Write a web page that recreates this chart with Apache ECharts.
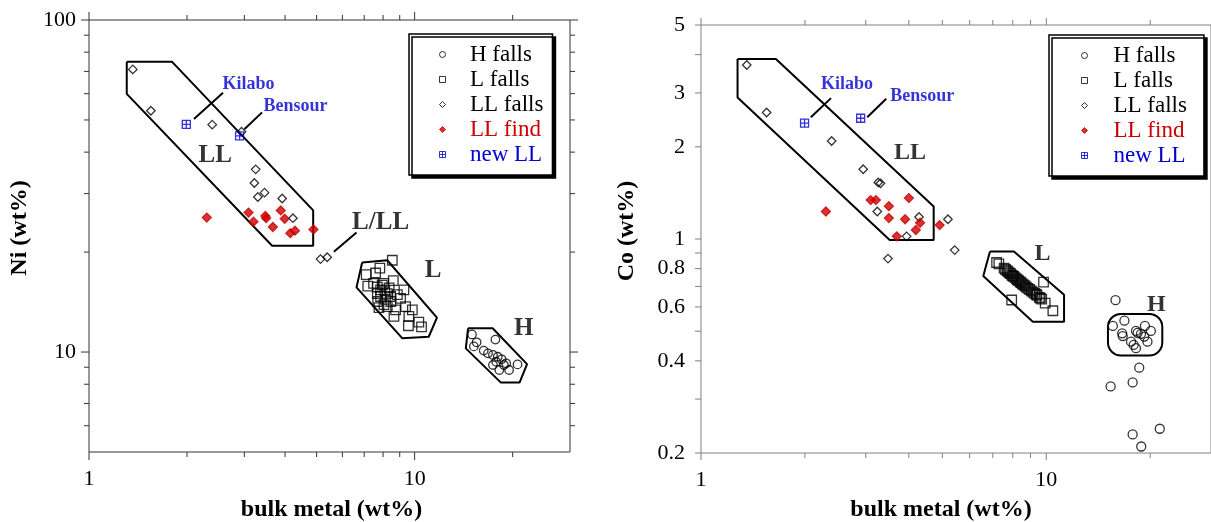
<!DOCTYPE html>
<html><head><meta charset="utf-8">
<script src="https://cdn.jsdelivr.net/npm/echarts@6/dist/echarts.min.js"></script>
<style>html,body{margin:0;padding:0;background:#fff;}#c{width:1211px;height:522px;}</style>
</head><body><div id="c"></div>
<script>
// ---------- axis ranges & ticks ----------
const niXRange = [1, 30];
const niYRange = [5, 100];
const coXRange = [1, 30];
const coYRange = [0.2, 5];
const niXMajor = [1, 10];
const niXMinor = [2, 3, 4, 5, 6, 7, 8, 9, 20];
const niXLabels = [1, 10];
const niYMajor = [10, 100];
const niYMinor = [6, 7, 8, 9, 20, 30, 40, 50, 60, 70, 80, 90];
const niYLabels = [10, 100];
const coXMajor = [1, 10];
const coXMinor = [2, 3, 4, 5, 6, 7, 8, 9, 20];
const coXLabels = [1, 10];
const coYMajor = [0.2, 0.3, 0.4, 0.5, 0.6, 0.7, 0.8, 0.9, 1, 2, 3, 4, 5];
const coYMinor = [];
const coYLabels = [0.2, 0.4, 0.6, 0.8, 1, 2, 3, 5];

// ---------- Ni panel data [bulk metal, Ni] ----------
const niHFalls = [[15.0,11.3],[15.5,10.7],[15.2,10.4],[17.7,10.9],[16.3,10.1],[16.8,9.91],[17.4,9.80],[18.0,9.68],[18.5,9.51],[19.1,9.25],[17.4,9.14],[18.2,8.83],[19.5,8.83],[20.7,9.18],[17.8,9.35],[18.8,9.14]];
const niLFalls = [[8.54,18.9],[7.10,17.1],[7.82,17.9],[7.59,17.3],[7.18,15.8],[7.68,15.7],[7.86,15.4],[8.60,16.4],[9.27,15.4],[8.85,14.9],[8.44,14.7],[7.86,14.7],[7.77,13.6],[8.24,13.7],[8.74,13.4],[8.64,12.8],[9.38,13.7],[9.84,13.4],[9.60,12.8],[10.3,12.3],[9.57,12.0],[10.5,11.9],[8.04,16.1],[8.24,15.0],[7.68,15.0],[7.48,16.1],[8.14,14.4],[7.95,15.9],[8.35,15.6],[8.10,15.3],[7.70,14.2],[8.45,14.2],[9.05,14.5],[8.05,13.9]];
const niLLFalls = [[1.363,71.0],[1.549,53.3],[2.39,48.4],[2.94,46.1],[3.25,35.5],[3.22,32.3],[3.46,30.2],[3.30,29.3],[3.92,29.0],[4.23,25.3],[5.14,19.05],[5.39,19.3]];
const niLLFind = [[2.30,25.4],[3.09,26.3],[3.20,24.7],[3.48,25.7],[3.50,25.3],[3.88,26.7],[3.99,25.2],[3.67,23.8],[4.15,22.8],[4.29,23.2],[4.89,23.4]];
const niNewLL = [[1.99,48.5],[2.90,44.8]];
const niLLField = [[1.306,74.9],[1.797,74.9],[4.88,26.7],[4.88,20.9],[3.65,20.9],[1.306,59.9],[1.306,74.9]];
const niLField = [[6.90,18.6],[8.24,18.9],[11.71,12.69],[11.05,11.12],[9.17,11.0],[6.63,15.66],[6.90,18.6]];
const niHField = [[14.59,11.79],[17.36,11.79],[22.14,9.2],[21.0,8.09],[18.41,8.09],[14.36,10.26],[14.59,11.79]];
const niKilaboLine = [[2.10,50.3],[2.58,60.4]];
const niBensourLine = [[3.0,46.9],[3.40,52.7]];
const niLLLLine = [[5.65,20.05],[6.63,22.9]];
const niGroupLabels = [{name:'LL',value:[2.44,39.2]},{name:'L',value:[11.39,17.6]},{name:'H',value:[21.64,11.73]},{name:'L/LL',value:[7.86,24.5]}];
const niNameLabels = [{name:'Kilabo',value:[2.56,64.2]},{name:'Bensour',value:[3.42,55.1]}];

// ---------- Co panel data [bulk metal, Co] ----------
const coHFalls = [[15.87,0.631],[16.84,0.541],[15.59,0.520],[16.59,0.492],[16.65,0.482],[18.19,0.501],[18.39,0.494],[18.81,0.490],[19.22,0.480],[19.64,0.462],[19.31,0.520],[20.09,0.501],[17.60,0.462],[17.91,0.451],[18.19,0.440],[18.59,0.380],[17.79,0.340],[15.36,0.330],[17.79,0.230],[21.32,0.240],[18.84,0.210]];
const coLFalls = [[7.18,0.838],[7.29,0.829],[7.94,0.632],[9.82,0.723],[10.45,0.583],[9.93,0.617],[9.61,0.641],[7.55,0.803],[7.62,0.795],[7.70,0.788],[7.75,0.783],[7.82,0.775],[7.88,0.771],[7.95,0.762],[8.00,0.758],[8.05,0.755],[8.12,0.748],[8.20,0.741],[8.25,0.735],[8.32,0.731],[8.40,0.724],[8.45,0.720],[8.52,0.714],[8.60,0.708],[8.68,0.703],[8.75,0.696],[8.85,0.690],[8.95,0.684],[9.05,0.677],[9.15,0.671],[9.25,0.664],[9.40,0.655],[9.55,0.645],[9.70,0.636],[9.35,0.660]];
const coLLFalls = [[1.357,3.70],[1.549,2.59],[2.39,2.09],[2.95,1.69],[3.26,1.53],[3.31,1.52],[3.24,1.23],[4.28,1.18],[5.19,1.16],[3.94,1.02],[5.43,0.92],[3.48,0.863]];
const coLLFind = [[2.30,1.23],[3.10,1.34],[3.21,1.34],[3.50,1.28],[4.00,1.36],[3.50,1.17],[3.90,1.16],[4.31,1.13],[4.19,1.07],[3.69,1.02],[4.91,1.11]];
const coNewLL = [[1.995,2.39],[2.90,2.48]];
const coLLField = [[1.276,3.87],[1.648,3.87],[4.72,1.276],[4.72,0.993],[3.52,0.993],[1.276,2.90],[1.276,3.87]];
const coLField = [[6.87,0.910],[8.06,0.910],[11.26,0.657],[11.26,0.537],[9.14,0.537],[6.57,0.757],[6.87,0.910]];
const coHBox = [[15.09,0.569,21.68,0.416]];
const coKilaboLine = [[2.08,2.50],[2.38,2.885]];
const coBensourLine = [[3.03,2.50],[3.44,2.87]];
const coGroupLabels = [{name:'LL',value:[4.03,1.91]},{name:'L',value:[9.76,0.892]},{name:'H',value:[20.84,0.609]}];
const coNameLabels = [{name:'Kilabo',value:[2.22,3.21]},{name:'Bensour',value:[3.52,2.92]}];

const legendNames = ['H falls', 'L falls', 'LL falls', 'LL find', 'new LL'];

// ---------- styles ----------
const FONT = "'Liberation Serif','Times New Roman','DejaVu Serif',serif";
const RED = '#cc0000';
const BLUE = '#0000d0';
const SYM = {
  circle: 'path://M10,5A5,5 0 1,1 0,5A5,5 0 1,1 10,5Z',
  square: 'path://M0,0L10,0L10,10L0,10Z',
  diamond: 'path://M5,0L10,5L5,10L0,5Z',
  xsquare: 'path://M0,0L10,0L10,10L0,10Z M5,0L5,10 M0,5L10,5'
};

function scat(name, data, idx, sym, size, fill, stroke) {
  return {
    type: 'scatter', name: name, data: data, xAxisIndex: idx, yAxisIndex: idx,
    symbol: SYM[sym], symbolSize: size, symbolKeepAspect: true,
    itemStyle: { color: fill, borderColor: stroke, borderWidth: 1.3 },
    emphasis: { disabled: true }, z: 5, animation: false
  };
}
function poly(data, idx, w) {
  return {
    type: 'line', data: data, xAxisIndex: idx, yAxisIndex: idx, symbol: 'none',
    lineStyle: { color: '#000', width: w }, silent: true, z: 2, animation: false
  };
}
function notes(data, idx, size, color, pos) {
  return {
    type: 'scatter', data: data, xAxisIndex: idx, yAxisIndex: idx, symbolSize: 1,
    itemStyle: { color: 'rgba(0,0,0,0)' }, silent: true, z: 6, animation: false,
    label: { show: true, position: pos, distance: 0, formatter: '{b}', fontFamily: FONT,
      fontWeight: 'bold', fontSize: size, color: color }
  };
}
const HOLLOW = 'rgba(255,255,255,0)';

function legendFor(left, top, pad, itemW) {
  return {
    orient: 'vertical', left: left, top: top, padding: pad, itemGap: 0,
    itemWidth: itemW, itemHeight: 6, symbolKeepAspect: true, selectedMode: false,
    backgroundColor: '#fff', borderColor: '#000', borderWidth: 1.5, borderRadius: 0,
    shadowColor: '#000', shadowBlur: 0, shadowOffsetX: 3, shadowOffsetY: 3,
    itemStyle: { borderWidth: 1 },
    textStyle: { fontFamily: FONT, fontSize: 23, lineHeight: 25, color: '#000' },
    data: [
      { name: 'H falls' }, { name: 'L falls' }, { name: 'LL falls' },
      { name: 'LL find', textStyle: { color: RED } },
      { name: 'new LL', textStyle: { color: BLUE } }
    ]
  };
}

const option = {
  animation: false,
  backgroundColor: '#fff',
  grid: [
    { left: 89, top: 20, width: 481, height: 432, show: true, borderColor: '#333', borderWidth: 1, backgroundColor: 'transparent' },
    { left: 701, top: 25, width: 517, height: 428, show: true, borderColor: '#808080', borderWidth: 1, backgroundColor: 'transparent' }
  ],
  xAxis: [
    { type: 'log', logBase: 10, min: niXRange[0], max: niXRange[1], gridIndex: 0, axisLine: {show:false}, axisTick: {show:false}, axisLabel: {show:false}, splitLine: {show:false} },
    { type: 'log', logBase: 10, min: coXRange[0], max: coXRange[1], gridIndex: 1, axisLine: {show:false}, axisTick: {show:false}, axisLabel: {show:false}, splitLine: {show:false} }
  ],
  yAxis: [
    { type: 'log', logBase: 10, min: niYRange[0], max: niYRange[1], gridIndex: 0, axisLine: {show:false}, axisTick: {show:false}, axisLabel: {show:false}, splitLine: {show:false} },
    { type: 'log', logBase: 10, min: coYRange[0], max: coYRange[1], gridIndex: 1, axisLine: {show:false}, axisTick: {show:false}, axisLabel: {show:false}, splitLine: {show:false} }
  ],
  legend: [
    legendFor(409, 34, [8, 9, 8, 30], 45),
    legendFor(1049, 35, [8, 17, 8, 32], 48)
  ],
  series: [
    poly(niLLField, 0, 2), poly(niLField, 0, 2), poly(niHField, 0, 2),
    poly(niKilaboLine, 0, 2), poly(niBensourLine, 0, 2), poly(niLLLLine, 0, 2),
    scat('H falls', niHFalls, 0, 'circle', 8.5, HOLLOW, '#000'),
    scat('L falls', niLFalls, 0, 'square', 9.5, HOLLOW, '#000'),
    scat('LL falls', niLLFalls, 0, 'diamond', 8.5, HOLLOW, '#000'),
    scat('LL find', niLLFind, 0, 'diamond', 9, RED, RED),
    scat('new LL', niNewLL, 0, 'xsquare', 8, HOLLOW, BLUE),
    notes(niGroupLabels, 0, 25, '#000', 'inside'),
    notes(niNameLabels, 0, 18, BLUE, 'right'),

    poly(coLLField, 1, 2), poly(coLField, 1, 2),
    poly(coKilaboLine, 1, 2), poly(coBensourLine, 1, 2),
    {
      type: 'custom', xAxisIndex: 1, yAxisIndex: 1, data: coHBox, silent: true, z: 2, animation: false,
      renderItem: function (params, api) {
        const a = api.coord([api.value(0), api.value(1)]);
        const b = api.coord([api.value(2), api.value(3)]);
        return { type: 'rect', shape: { x: a[0], y: a[1], width: b[0] - a[0], height: b[1] - a[1], r: 13 },
          style: { fill: 'none', stroke: '#000', lineWidth: 2 } };
      }
    },
    scat('H falls', coHFalls, 1, 'circle', 9, HOLLOW, '#000'),
    scat('L falls', coLFalls, 1, 'square', 9.5, HOLLOW, '#000'),
    scat('LL falls', coLLFalls, 1, 'diamond', 8.5, HOLLOW, '#000'),
    scat('LL find', coLLFind, 1, 'diamond', 9, RED, RED),
    scat('new LL', coNewLL, 1, 'xsquare', 8, HOLLOW, BLUE),
    notes(coGroupLabels, 1, 24, '#000', 'inside'),
    notes(coNameLabels, 1, 18, BLUE, 'right')
  ]
};

const chart = echarts.init(document.getElementById('c'), null, { renderer: 'canvas' });
chart.setOption(option);

// ---------- ticks, tick labels and axis titles through the axes ----------
const gfx = [];
function P(idx, x, y) { return chart.convertToPixel({ gridIndex: idx }, [x, y]); }
function ln(x1, y1, x2, y2, c) {
  gfx.push({ type: 'line', silent: true, z: 10, shape: { x1: x1, y1: y1, x2: x2, y2: y2 }, style: { stroke: c, lineWidth: 1 } });
}
function txt(x, y, s, align, size, bold, rot) {
  gfx.push({ type: 'text', silent: true, z: 10, x: x, y: y, rotation: rot || 0,
    style: { text: s, font: (bold ? 'bold ' : '') + size + 'px ' + FONT, fontSize: size, fontFamily: FONT,
      fontWeight: bold ? 'bold' : 'normal', fill: '#000', textFill: '#000',
      align: align, textAlign: align, verticalAlign: 'middle', textVerticalAlign: 'middle' } });
}
function panel(idx, xr, yr, xMaj, xMin, xLab, yMaj, yMin, yLab, col, majLen, minLen, yMajLen, yLabGap) {
  const bl = P(idx, xr[0], yr[0]);
  const tr = P(idx, xr[1], yr[1]);
  const left = bl[0], bottom = bl[1], right = tr[0], top = tr[1];
  xMaj.forEach(v => { const x = P(idx, v, yr[0])[0]; ln(x, bottom, x, bottom + majLen, col); ln(x, top, x, top - majLen, col); });
  xMin.forEach(v => { const x = P(idx, v, yr[0])[0]; ln(x, bottom, x, bottom + minLen, col); ln(x, top, x, top - minLen, col); });
  yMaj.forEach(v => { const y = P(idx, xr[0], v)[1]; ln(left, y, left - yMajLen, y, col); ln(right, y, right + yMajLen, y, col); });
  yMin.forEach(v => { const y = P(idx, xr[0], v)[1]; ln(left, y, left - minLen, y, col); ln(right, y, right + minLen, y, col); });
  xLab.forEach(v => { const x = P(idx, v, yr[0])[0]; txt(x, bottom + 27, String(v), 'center', 22, false); });
  yLab.forEach(v => { const y = P(idx, xr[0], v)[1]; txt(left - yLabGap, y, String(v), 'right', 22, false); });
  return { left, right, top, bottom };
}
const b0 = panel(0, niXRange, niYRange, niXMajor, niXMinor, niXLabels, niYMajor, niYMinor, niYLabels, '#333', 8, 5, 8, 13);
const b1 = panel(1, coXRange, coYRange, coXMajor, coXMinor, coXLabels, coYMajor, coYMinor, coYLabels, '#808080', 7, 5, 6, 16);
txt((b0.left + b0.right) / 2 + 2, b0.bottom + 58, 'bulk metal (wt%)', 'center', 24, true);
txt(941, b1.bottom + 57, 'bulk metal (wt%)', 'center', 24, true);
txt(b0.left - 69, (b0.top + b0.bottom) / 2 - 8, 'Ni (wt%)', 'center', 24, true, Math.PI / 2);
txt(b1.left - 74, (b1.top + b1.bottom) / 2 - 8, 'Co (wt%)', 'center', 24, true, Math.PI / 2);
chart.setOption({ graphic: { elements: gfx } });
</script></body></html>
